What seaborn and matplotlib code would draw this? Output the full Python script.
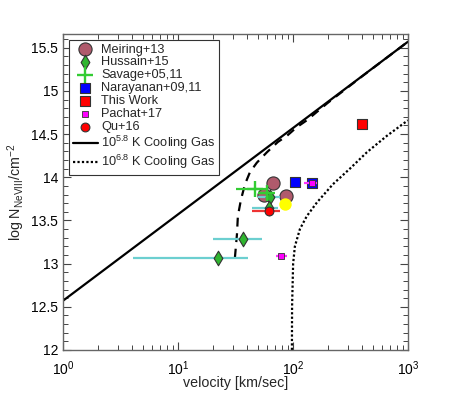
import numpy as np
import pandas as pd
import matplotlib
matplotlib.use("Agg")
import matplotlib.pyplot as plt
import seaborn as sns

# observed points (velocity in km/s, log N)
meiring_v = [66.5, 56.0, 86.3]
meiring_n = [13.93, 13.80, 13.78]

hussain_v = [22.3, 36.7, 63.1, 61.8]
hussain_n = [13.07, 13.29, 13.77, 13.64]
hussain_vlo = [4.1, 20.3, 49.5, 44.3]
hussain_vhi = [40.8, 53.4, 77.5, 74.5]

savage_v = [46.8, 59.0]
savage_n = [13.86, 13.82]
savage_vlo = [32.0, 49.6]
savage_vhi = [58.0, 67.0]

narayanan_v = [104.0, 146.0]
narayanan_n = [13.95, 13.93]

thiswork_v = [395.0]
thiswork_n = [14.62]
thiswork_vlo = [370.0]
thiswork_vhi = [425.0]

pachat_v = [146.0, 78.7]
pachat_n = [13.93, 13.09]
pachat_vlo = [125.0, 71.5]
pachat_vhi = [163.0, 89.0]

qu_v = [61.8]
qu_n = [13.61]
qu_vlo = [44.3]
qu_vhi = [77.1]

extra_v = [85.5]
extra_n = [13.69]

# model curves
hot_v = [1.0, 1000.0]
hot_n = [12.57, 15.57]

warm_v = [31.3, 32.6, 33.2, 35.3, 38.3, 42.3, 48.6, 59.4, 74.1, 88.7, 108.0,
          132.0, 200.0, 400.0, 1000.0]
warm_n = [13.07, 13.34, 13.55, 13.74, 13.92, 14.06, 14.17, 14.29, 14.41,
          14.48, 14.58, 14.66, 14.86, 15.17, 15.57]

hotter_v = [98.0, 98.3, 100.4, 104.0, 115.0, 132.0, 162.0, 223.0, 313.0,
            440.0, 656.0, 1000.0]
hotter_n = [12.0, 12.5, 13.0, 13.2, 13.4, 13.55, 13.71, 13.92, 14.1, 14.29,
            14.48, 14.66]

sns.set_theme(style="ticks")
plt.rcParams["font.family"] = ["Liberation Sans", "DejaVu Sans"]
plt.rcParams["mathtext.fontset"] = "custom"
plt.rcParams["mathtext.rm"] = "Liberation Sans"
plt.rcParams["mathtext.it"] = "Liberation Sans:italic"
plt.rcParams["mathtext.bf"] = "Liberation Sans:bold"

fig = plt.figure(figsize=(4.63, 3.95), dpi=100)
ax = fig.add_axes([0.136, 0.114, 0.745, 0.800])

# model lines
sns.lineplot(x=hot_v, y=hot_n, ax=ax, color="black", lw=1.6,
             sort=False, estimator=None, label="10$^{5.8}$ K Cooling Gas")
sns.lineplot(x=warm_v, y=warm_n, ax=ax, color="black", lw=1.6,
             sort=False, estimator=None, linestyle=(0, (4, 3)))
sns.lineplot(x=hotter_v, y=hotter_n, ax=ax, color="black", lw=1.6,
             sort=False, estimator=None, linestyle=(0, (1, 1)),
             label="10$^{6.8}$ K Cooling Gas")


def xerr(v, lo, hi):
    v = np.array(v)
    return [v - np.array(lo), np.array(hi) - v]


# error bars first
ax.errorbar(hussain_v, hussain_n, xerr=xerr(hussain_v, hussain_vlo, hussain_vhi),
            fmt="none", ecolor="#6ccfd0", elinewidth=1.6, capsize=0, zorder=3)
ax.errorbar(savage_v, savage_n, xerr=xerr(savage_v, savage_vlo, savage_vhi),
            fmt="none", ecolor="#33cc33", elinewidth=1.6, capsize=0, zorder=3)
ax.errorbar(qu_v, qu_n, xerr=xerr(qu_v, qu_vlo, qu_vhi),
            fmt="none", ecolor="#ee3333", elinewidth=1.6, capsize=0, zorder=3)
ax.errorbar(pachat_v, pachat_n, xerr=xerr(pachat_v, pachat_vlo, pachat_vhi),
            fmt="none", ecolor="#ff33ff", elinewidth=1.6, capsize=0, zorder=6)
ax.errorbar(thiswork_v, thiswork_n, xerr=xerr(thiswork_v, thiswork_vlo, thiswork_vhi),
            fmt="none", ecolor="#ff8080", elinewidth=1.2, capsize=0, zorder=3)

edge = "#333333"
sns.scatterplot(x=meiring_v, y=meiring_n, ax=ax, marker="o", s=90,
                color="#b05a6c", edgecolor=edge, linewidth=0.8, zorder=2,
                label="Meiring+13")
sns.scatterplot(x=hussain_v, y=hussain_n, ax=ax, marker="d", s=55,
                color="#2fb52f", edgecolor=edge, linewidth=0.8, zorder=4,
                label="Hussain+15")
sns.scatterplot(x=savage_v, y=savage_n, ax=ax, marker="+", s=130,
                color="#33cc33", linewidth=1.7, zorder=4,
                label="Savage+05,11")
sns.scatterplot(x=narayanan_v, y=narayanan_n, ax=ax, marker="s", s=50,
                color="#0000ff", edgecolor=edge, linewidth=0.8, zorder=5,
                label="Narayanan+09,11")
sns.scatterplot(x=thiswork_v, y=thiswork_n, ax=ax, marker="s", s=50,
                color="#ff0000", edgecolor=edge, linewidth=0.8, zorder=5,
                label="This Work")
sns.scatterplot(x=pachat_v, y=pachat_n, ax=ax, marker="s", s=16,
                color="#ff00ff", edgecolor=edge, linewidth=0.6, zorder=7,
                label="Pachat+17")
sns.scatterplot(x=qu_v, y=qu_n, ax=ax, marker="o", s=40,
                color="#ff0000", edgecolor=edge, linewidth=0.8, zorder=5,
                label="Qu+16")
sns.scatterplot(x=extra_v, y=extra_n, ax=ax, marker="o", s=80,
                color="#ffff00", linewidth=0, zorder=5)

ax.set_xscale("log")
ax.set_xlim(1, 1000)
ax.set_ylim(12, 15.66)
ax.set_yticks([12, 12.5, 13, 13.5, 14, 14.5, 15, 15.5])
ax.set_yticklabels(["12", "12.5", "13", "13.5", "14", "14.5", "15", "15.5"])
ax.yaxis.set_minor_locator(matplotlib.ticker.MultipleLocator(0.1))

ax.set_xlabel("velocity [km/sec]", fontsize=10.3, labelpad=-1)
ax.set_ylabel("log N$_{\\rm NeVIII}$/cm$^{-2}$", fontsize=10.3, labelpad=3)

ax.tick_params(which="both", direction="in", top=True, right=True,
               labelsize=10, colors="#444444", labelcolor="black")
ax.tick_params(axis="x", which="major", pad=6.5)
ax.tick_params(which="major", length=6, width=0.8)
ax.tick_params(which="minor", length=3.5, width=0.7)
for s in ax.spines.values():
    s.set_color("#666666")
    s.set_linewidth(1.0)

order = ["Meiring+13", "Hussain+15", "Savage+05,11", "Narayanan+09,11",
         "This Work", "Pachat+17", "Qu+16",
         "10$^{5.8}$ K Cooling Gas", "10$^{6.8}$ K Cooling Gas"]
handles, labels = ax.get_legend_handles_labels()
lookup = dict(zip(labels, handles))
leg = ax.legend([lookup[k] for k in order], order, loc="upper left",
                fontsize=9.2, frameon=True, fancybox=False, framealpha=1,
                edgecolor="#333333", handlelength=2.0, handletextpad=0.25,
                labelspacing=0.07, borderpad=0.3, borderaxespad=0.45)
leg.get_frame().set_linewidth(0.8)

fig.savefig("out.png", dpi=100)
plt.close()
